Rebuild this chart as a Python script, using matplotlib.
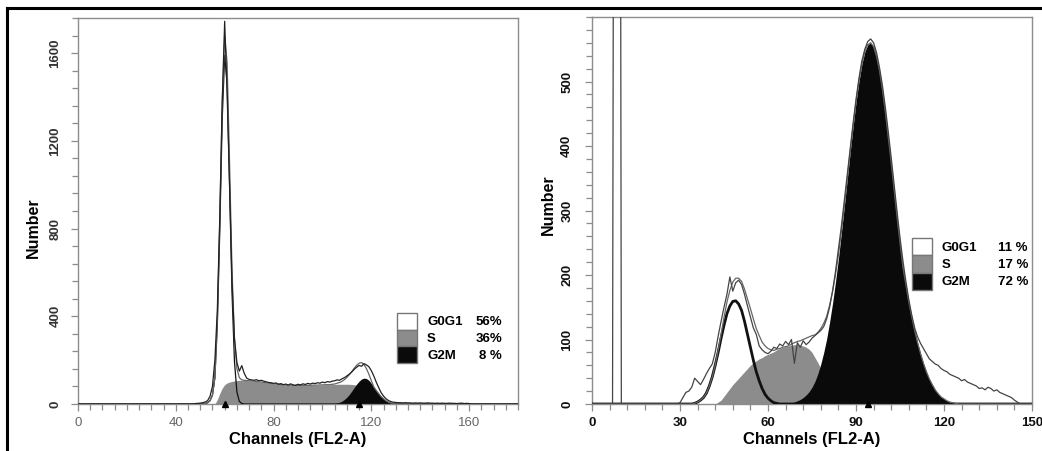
import numpy as np
import matplotlib.pyplot as plt
from matplotlib.patches import Rectangle
from matplotlib.lines import Line2D
from matplotlib.ticker import MultipleLocator

plt.rcParams['font.family'] = ['Liberation Sans', 'DejaVu Sans']

W, H = 1042, 451

# Left histogram: G0G1 56%, S 36%, G2M 8%  (channel -> count)
n_left = 181
raw_l_start = 48
raw_l = [2, 3, 4, 6, 9, 15, 35, 80, 200, 430,
         850, 1380, 1745, 1420, 1000, 560, 300, 190, 150, 175,
         140, 118, 112, 110, 108, 111, 106, 108, 104, 101,
         98, 97, 94, 96, 90, 93, 88, 91, 86, 92,
         87, 85, 90, 87, 92, 89, 94, 91, 95, 93,
         97, 95, 100, 97, 102, 100, 104, 106, 110, 108,
         115, 120, 128, 136, 146, 158, 168, 176, 172, 184,
         178, 170, 152, 128, 100, 75, 52, 36, 24, 16,
         11, 8, 7, 6, 6, 5, 6, 5, 5, 4,
         5, 4, 5, 4, 4, 5, 4, 4, 3, 4,
         3, 4, 3, 3, 4, 3, 3, 2, 3, 4,
         2, 3, 2, 0]
g1_l_start = 52
g1_l = [2, 6, 15, 40, 120, 360, 790, 1300, 1590, 1460,
        1000, 510, 195, 55, 12, 2, 0]
s_l_start = 56
s_l = [0, 20, 48, 72, 88, 96, 100, 103, 105, 107,
       108, 108, 108, 107, 106, 105, 104, 103, 101, 100,
       98, 97, 95, 94, 92, 91, 90, 89, 88, 87,
       86, 86, 85, 85, 85, 85, 85, 85, 85, 85,
       86, 86, 86, 87, 87, 88, 88, 88, 89, 89,
       90, 90, 90, 90, 90, 90, 89, 88, 86, 82,
       75, 62, 45, 28, 12, 0]
g2_l_start = 104
g2_l = [1, 2, 5, 8, 13, 21, 31, 44, 59, 75,
        91, 104, 114, 118, 116, 108, 94, 78, 62, 48,
        34, 24, 15, 9, 5, 3, 1, 0]
marks_l = [60, 115]
xticks_l = [0, 40, 80, 120, 160]
yticks_l = [0, 400, 800, 1200, 1600]

# Right histogram: G0G1 11%, S 17%, G2M 72%
n_right = 151
raw_r_start = 0
raw_r = ([0, 0, 0, 0, 0, 0, 0, 0, 2500, 3000, 0] + [0] * 19 +
         [2, 10, 18, 20, 26, 40, 35, 30, 38, 47,
          55, 62, 80, 105, 128, 150, 170, 197, 175, 188,
          192, 185, 170, 152, 135, 118, 108, 90, 84, 80,
          78, 82, 88, 86, 93, 90, 97, 92, 100, 63,
          95, 88, 98, 92, 96, 102, 106, 110, 114, 120,
          132, 150, 175, 205, 240, 275, 315, 355, 395, 435,
          472, 505, 532, 550, 562, 566, 560, 545, 522, 494,
          460, 422, 382, 340, 298, 258, 222, 190, 162, 138,
          118, 104, 94, 86, 78, 70, 66, 62, 60, 55,
          52, 50, 46, 44, 42, 40, 36, 38, 34, 32,
          30, 28, 24, 25, 22, 26, 24, 20, 22, 18,
          16, 14, 12, 10, 6, 3, 0, 0, 0, 0, 0])
g1_r_start = 34
g1_r = [0, 1, 3, 6, 10, 17, 28, 42, 60, 80,
        102, 122, 140, 152, 159, 160, 155, 145, 128, 108,
        88, 68, 50, 36, 24, 15, 9, 5, 2, 1, 0]
s_r_start = 42
s_r = [0, 3, 6, 12, 18, 24, 30, 35, 40, 45,
       50, 55, 60, 64, 67, 70, 72, 75, 77, 79,
       81, 84, 86, 88, 89, 90, 91, 92, 92, 91,
       90, 88, 85, 80, 72, 64, 55, 45, 35, 26,
       18, 11, 6, 2, 0]
g2_r_start = 68
g2_r = [2, 3, 5, 7, 10, 14, 19, 26, 35, 47,
        62, 80, 101, 127, 156, 189, 225, 265, 306, 348,
        390, 430, 468, 500, 527, 546, 557, 560, 554, 539,
        517, 488, 453, 414, 374, 332, 290, 250, 212, 185,
        158, 135, 114, 95, 78, 63, 50, 39, 30, 22,
        16, 11, 8, 5, 3, 2, 1, 0]
marks_r = [94]
xticks_r = [0, 30, 60, 90, 120, 150]
yticks_r = [0, 100, 200, 300, 400, 500]

phases = ['G0G1', 'S', 'G2M']
pct_l = ['56%', '36%', '8 %']
pct_r = ['11 %', '17 %', '72 %']

GRAY = '#8c8c8c'
AXC = '#8c8c8c'


def place(start, vals, n):
    a = np.zeros(n)
    a[start:start + len(vals)] = vals
    return a


def draw_hist(ax, n, raw, g1, s, g2, marks, g1_lw, raw_color):
    ch = np.arange(n)
    s_full = place(*s, n)
    g2_full = place(*g2, n)
    g1_full = place(*g1, n)
    total = g1_full + s_full + g2_full
    ax.fill_between(ch, 0, s_full, color=GRAY, lw=0, zorder=1)
    ax.fill_between(ch, 0, g2_full, color='#0a0a0a', lw=0, zorder=2)
    ax.plot(ch, g1_full, color='#111', lw=g1_lw, zorder=3)
    ax.plot(ch, total, color='#666', lw=0.9, zorder=4)
    ax.plot(ch, place(*raw, n), color=raw_color, lw=0.9, zorder=5)
    ax.plot(marks, [0] * len(marks), ls='none', marker='^', ms=4,
            color='k', clip_on=False, zorder=6)


def style(ax, xmax, ymax, xt, xmin, yt, ymin, xcol, xw, ycol, ypad):
    ax.set_xlim(0, xmax)
    ax.set_ylim(0, ymax)
    ax.set_xticks(xt)
    ax.set_yticks(yt)
    ax.xaxis.set_minor_locator(MultipleLocator(xmin))
    ax.yaxis.set_minor_locator(MultipleLocator(ymin))
    for sp in ax.spines.values():
        sp.set_color(AXC)
        sp.set_linewidth(1.0)
    ax.tick_params(which='both', direction='out', color=AXC, width=0.9)
    ax.tick_params(which='major', length=5)
    ax.tick_params(which='minor', length=4)
    ax.tick_params(axis='x', labelsize=9.5, labelcolor=xcol, pad=4.5)
    ax.tick_params(axis='y', labelsize=9.5, labelcolor=ycol, pad=ypad,
                   labelrotation=90)
    for t in ax.get_xticklabels():
        t.set_fontweight(xw)
    for t in ax.get_yticklabels():
        t.set_fontweight('bold')
        t.set_va('center')
    ax.set_xlabel('Channels (FL2-A)', fontsize=12, fontweight='bold')
    ax.set_ylabel('Number', fontsize=11.5, fontweight='bold')


def legend(x_box, y_top, row_h, x_name, x_pct, pcts):
    fills = ['#ffffff', GRAY, '#0a0a0a']
    for i, (name, pct) in enumerate(zip(phases, pcts)):
        y = y_top + i * row_h
        fig.patches.append(Rectangle((x_box / W, 1 - (y + row_h) / H),
                                     20 / W, row_h / H,
                                     transform=fig.transFigure,
                                     fc=fills[i], ec='#777', lw=1.0))
        yc = 1 - (y + row_h / 2 + 1) / H
        fig.text(x_name / W, yc, name, fontsize=9.5, fontweight='bold',
                 va='center', ha='left')
        fig.text(x_pct / W, yc, pct, fontsize=9.5, fontweight='bold',
                 va='center', ha='right')


fig = plt.figure(figsize=(W / 100, H / 100), dpi=100)
ax_l = fig.add_axes([78 / W, 1 - 404 / H, 440 / W, 386 / H])
ax_r = fig.add_axes([592 / W, 1 - 404 / H, 440 / W, 387 / H])

draw_hist(ax_l, n_left, (raw_l_start, raw_l), (g1_l_start, g1_l),
          (s_l_start, s_l), (g2_l_start, g2_l), marks_l, 0.9, '#222')
draw_hist(ax_r, n_right, (raw_r_start, raw_r), (g1_r_start, g1_r),
          (s_r_start, s_r), (g2_r_start, g2_r), marks_r, 2.0, '#444')

style(ax_l, 180, 1760, xticks_l, 5, yticks_l, 80, '#666', 'normal', '#333', 7)
style(ax_r, 150, 600, xticks_r, 6, yticks_r, 20, '#111', 'bold', '#111', 8.5)

for ax in (ax_l, ax_r):
    ax.xaxis.set_label_coords(0.5, -0.091)
    ax.xaxis.label.set_va('center')
ax_l.yaxis.set_label_coords(-0.102, 0.458)
ax_l.yaxis.label.set_va('center')
ax_r.yaxis.set_label_coords(-0.10, 0.514)
ax_r.yaxis.label.set_va('center')

legend(397, 313, 16.7, 427, 502, pct_l)
legend(912, 238, 17.3, 942, 1028, pct_r)

# black frame along top and left edge
fig.add_artist(Line2D([7 / W, 1], [1 - 8 / H, 1 - 8 / H], color='k', lw=2.2))
fig.add_artist(Line2D([7 / W, 7 / W], [0, 1 - 8 / H], color='k', lw=2.2))

fig.savefig('out.png', dpi=100)
